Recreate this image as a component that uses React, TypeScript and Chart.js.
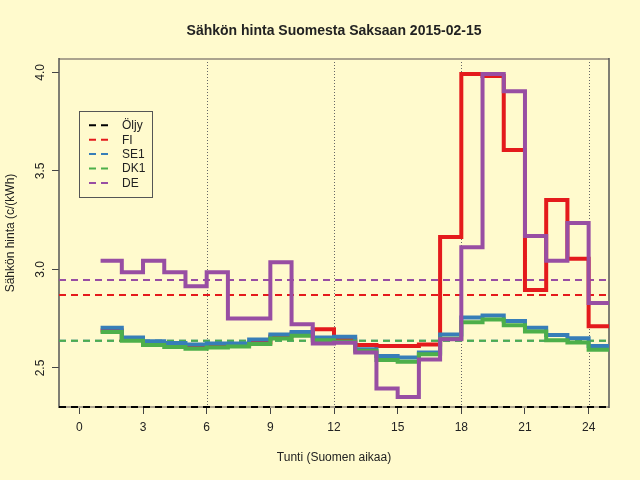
import React, { useEffect, useRef } from 'react';
import { Chart, ChartConfiguration, Plugin, registerables } from 'chart.js';

Chart.register(...registerables);

const TITLE = 'Sähkön hinta Suomesta Saksaan 2015-02-15';
const X_LABEL = 'Tunti (Suomen aikaa)';
const Y_LABEL = 'Sähkön hinta (c/(kWh)';

// hour of day, value holds from this hour to the next (last one repeated)
const HOURS = [1, 2, 3, 4, 5, 6, 7, 8, 9, 10, 11, 12, 13, 14, 15, 16, 17, 18, 19, 20, 21, 22, 23, 24, 25];
const FI = [2.690, 2.645, 2.622, 2.616, 2.607, 2.612, 2.619, 2.629, 2.660, 2.675, 2.697, 2.645, 2.616, 2.612, 2.612, 2.619, 3.164, 3.991, 3.981, 3.606, 2.895, 3.352, 3.054, 2.712, 2.712];
const SE1 = [2.704, 2.655, 2.636, 2.627, 2.619, 2.624, 2.624, 2.645, 2.670, 2.682, 2.655, 2.658, 2.595, 2.561, 2.553, 2.579, 2.670, 2.756, 2.766, 2.738, 2.704, 2.667, 2.651, 2.612, 2.612];
const DK1 = [2.683, 2.638, 2.616, 2.607, 2.597, 2.604, 2.609, 2.621, 2.650, 2.663, 2.641, 2.634, 2.587, 2.540, 2.531, 2.569, 2.648, 2.732, 2.746, 2.717, 2.685, 2.641, 2.629, 2.592, 2.592];
const DE = [3.044, 2.986, 3.044, 2.986, 2.915, 2.986, 2.751, 2.751, 3.036, 2.722, 2.624, 2.628, 2.578, 2.396, 2.353, 2.543, 2.646, 3.112, 3.991, 3.904, 3.169, 3.044, 3.235, 2.829, 2.829];

const SERIES_NAMES = ['Öljy', 'FI', 'SE1', 'DK1', 'DE'];
const SERIES_COLORS = ['#000000', '#E41A1C', '#377EB8', '#4DAF4A', '#984EA3'];
const AVERAGES = [2.302, 2.870, 2.638, 2.638, 2.946];

const X_TICKS = [0, 3, 6, 9, 12, 15, 18, 21, 24];
const Y_TICKS = [2.5, 3.0, 3.5, 4.0];
const X_GUIDES = [6, 12, 18, 24];
const X_RANGE = [-0.96, 24.96];
const Y_RANGE = [2.302, 4.0675];

const BG = '#FFFACD';
const TEXT = '#222222';
const FONT = '"Liberation Sans", Arial, sans-serif';

const paperPlugin: Plugin = {
    id: 'paper',
    beforeDraw(chart) {
        const ctx = chart.ctx;
        ctx.save();
        ctx.fillStyle = BG;
        ctx.fillRect(0, 0, chart.width, chart.height);
        ctx.restore();
    },
    beforeDatasetsDraw(chart) {
        const ctx = chart.ctx;
        const { left, right, top, bottom } = chart.chartArea;
        const xs = chart.scales.x;
        ctx.save();
        // dotted guides every 6 hours
        ctx.strokeStyle = '#666666';
        ctx.lineWidth = 1;
        ctx.setLineDash([1, 2]);
        X_GUIDES.forEach((v) => {
            const px = Math.round(xs.getPixelForValue(v)) + 0.5;
            ctx.beginPath();
            ctx.moveTo(px, top);
            ctx.lineTo(px, bottom);
            ctx.stroke();
        });
        ctx.setLineDash([]);
        // box
        ctx.strokeStyle = '#aba38e';
        ctx.lineWidth = 2;
        ctx.beginPath();
        ctx.moveTo(left, top);
        ctx.lineTo(right, top);
        ctx.moveTo(left, bottom);
        ctx.lineTo(right, bottom);
        ctx.stroke();
        ctx.strokeStyle = '#555555';
        ctx.lineWidth = 1.5;
        ctx.beginPath();
        ctx.moveTo(left, top - 1);
        ctx.lineTo(left, bottom + 1);
        ctx.moveTo(right, top - 1);
        ctx.lineTo(right, bottom + 1);
        ctx.stroke();
        ctx.restore();
    },
    afterDraw(chart) {
        const ctx = chart.ctx;
        const { left, right, top, bottom } = chart.chartArea;
        const ys = chart.scales.y;
        const cx = (left + right) / 2;
        ctx.save();
        ctx.fillStyle = TEXT;

        ctx.font = `bold 14px ${FONT}`;
        ctx.textAlign = 'center';
        ctx.textBaseline = 'alphabetic';
        ctx.fillText(TITLE, cx, 35);

        ctx.font = `12px ${FONT}`;
        ctx.fillText(X_LABEL, cx, 461);

        // y tick labels and y title, rotated
        Y_TICKS.forEach((v) => {
            ctx.save();
            ctx.translate(43.5, ys.getPixelForValue(v));
            ctx.rotate(-Math.PI / 2);
            ctx.fillText(v.toFixed(1), 0, 0);
            ctx.restore();
        });
        ctx.save();
        ctx.translate(13.5, (top + bottom) / 2);
        ctx.rotate(-Math.PI / 2);
        ctx.fillText(Y_LABEL, 0, 0);
        ctx.restore();

        // legend
        ctx.strokeStyle = '#555555';
        ctx.lineWidth = 1;
        ctx.strokeRect(79.5, 111.5, 73, 86);
        ctx.textAlign = 'left';
        ctx.textBaseline = 'middle';
        SERIES_NAMES.forEach((name, i) => {
            const y = 125.3 + 14.4 * i;
            ctx.strokeStyle = SERIES_COLORS[i];
            ctx.lineWidth = 2;
            ctx.setLineDash([7, 5]);
            ctx.beginPath();
            ctx.moveTo(89, y);
            ctx.lineTo(109, y);
            ctx.stroke();
            ctx.setLineDash([]);
            ctx.fillStyle = TEXT;
            ctx.fillText(name, 122, y + 0.5);
        });
        ctx.restore();
    },
};

const STEP_SERIES = [FI, SE1, DK1, DE];

const App: React.FC = () => {
    const canvasRef = useRef<HTMLCanvasElement>(null);
    const chartRef = useRef<Chart | null>(null);

    useEffect(() => {
        if (!canvasRef.current) return;
        if (chartRef.current) chartRef.current.destroy();
        const ctx = canvasRef.current.getContext('2d');
        if (!ctx) return;

        const avgSets = AVERAGES.map((v, i) => ({
            label: SERIES_NAMES[i] + ' ka',
            data: [{ x: X_RANGE[0], y: v }, { x: X_RANGE[1], y: v }],
            borderColor: SERIES_COLORS[i],
            borderWidth: 2,
            borderDash: [7, 5],
            pointRadius: 0,
            fill: false,
            clip: i === 0 ? false : 0,
            order: 20 - i,
        }));
        const stepSets = STEP_SERIES.map((vals, j) => ({
            label: SERIES_NAMES[j + 1],
            data: HOURS.map((h, k) => ({ x: h, y: vals[k] })),
            borderColor: SERIES_COLORS[j + 1],
            borderWidth: 4,
            stepped: true,
            pointRadius: 0,
            fill: false,
            clip: 0,
            order: 9 - j,
        }));

        const tickGrid = {
            display: true,
            drawOnChartArea: false,
            drawTicks: true,
            tickLength: 7,
            tickColor: '#444444',
            tickWidth: 1,
        };

        const config: ChartConfiguration = {
            type: 'line',
            data: { datasets: [...avgSets, ...stepSets] as any },
            options: {
                responsive: false,
                devicePixelRatio: 1,
                animation: false,
                layout: { padding: { top: 59, right: 31, left: 0, bottom: 0 } },
                plugins: {
                    legend: { display: false },
                    tooltip: { enabled: false },
                    title: { display: false },
                },
                scales: {
                    x: {
                        type: 'linear',
                        min: X_RANGE[0],
                        max: X_RANGE[1],
                        afterBuildTicks: (s: any) => {
                            s.ticks = X_TICKS.map((v) => ({ value: v }));
                        },
                        afterFit: (s: any) => {
                            s.height = 73;
                        },
                        ticks: {
                            color: TEXT,
                            font: { family: FONT, size: 12 },
                            padding: 6,
                            maxRotation: 0,
                            autoSkip: false,
                        },
                        grid: tickGrid,
                        border: { display: false },
                    },
                    y: {
                        type: 'linear',
                        min: Y_RANGE[0],
                        max: Y_RANGE[1],
                        afterBuildTicks: (s: any) => {
                            s.ticks = Y_TICKS.map((v) => ({ value: v }));
                        },
                        afterFit: (s: any) => {
                            s.width = 59;
                        },
                        ticks: { display: false },
                        grid: tickGrid,
                        border: { display: false },
                    },
                },
            },
            plugins: [paperPlugin],
        };

        chartRef.current = new Chart(ctx, config);

        return () => {
            if (chartRef.current) {
                chartRef.current.destroy();
                chartRef.current = null;
            }
        };
    }, []);

    return (
        <div style={{ position: 'fixed', left: 0, top: 0, width: 640, height: 480, background: BG }}>
            <canvas ref={canvasRef} width={640} height={480} />
        </div>
    );
};

export default App;
